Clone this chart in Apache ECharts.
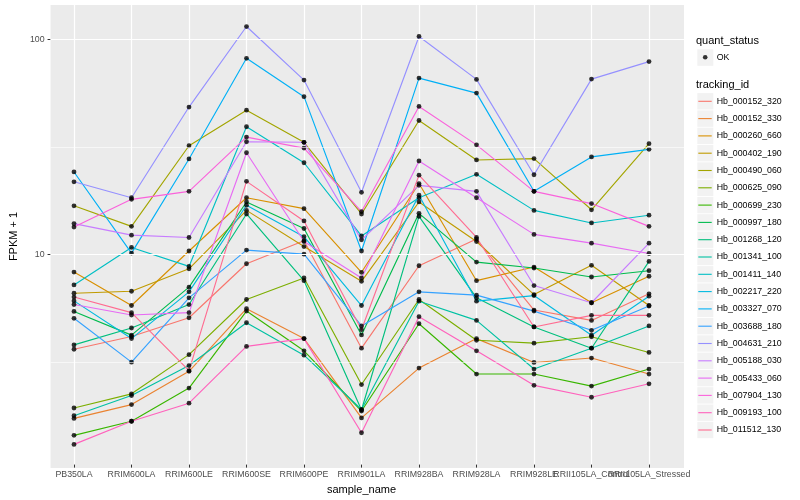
<!DOCTYPE html>
<html><head><meta charset="utf-8">
<script src="https://cdn.jsdelivr.net/npm/echarts@6/dist/echarts.min.js"></script>
<style>html,body{margin:0;padding:0;background:#fff}#c{width:800px;height:500px}</style>
</head><body><div id="c"></div>
<script>
const categories = ['PB350LA','RRIM600LA','RRIM600LE','RRIM600SE','RRIM600PE','RRIM901LA','RRIM928BA','RRIM928LA','RRIM928LE','RRII105LA_Control','RRII105LA_Stressed'];
const trackingIds = ['Hb_000152_320','Hb_000152_330','Hb_000260_660','Hb_000402_190','Hb_000490_060','Hb_000625_090','Hb_000699_230','Hb_000997_180','Hb_001268_120','Hb_001341_100','Hb_001411_140','Hb_002217_220','Hb_003327_070','Hb_003688_180','Hb_004631_210','Hb_005188_030','Hb_005433_060','Hb_007904_130','Hb_009193_100','Hb_011512_130'];
const colors = ['#F8766D','#EA8331','#D89000','#C09B00','#A3A500','#7CAE00','#39B600','#00BB4E','#00BF7D','#00C1A3','#00BFC4','#00BAE0','#00B0F6','#35A2FF','#9590FF','#C77CFF','#E76BF3','#FA62DB','#FF62BC','#FF6C91'];
const yTickValues = [10, 100];
const yTickLabels = ['10', '100'];
const yMinorBreaks = [3.1623, 31.623];

const Hb_000152_320 = [3.54, 4.06, 4.97, 8.89, 11.4, 3.58, 8.70, 11.6, 5.40, 4.83, 6.43];
const Hb_000152_330 = [1.68, 1.95, 2.79, 5.48, 3.97, 1.69, 2.89, 3.97, 3.07, 3.22, 2.71];
const Hb_000260_660 = [8.13, 5.67, 10.2, 18.1, 16.1, 8.11, 21.1, 7.41, 8.58, 5.84, 7.77];
const Hb_000402_190 = [6.47, 6.61, 8.42, 15.8, 10.7, 7.36, 17.3, 11.3, 6.38, 8.74, 5.67];
const Hb_000490_060 = [16.6, 13.3, 31.7, 46.5, 32.9, 15.2, 41.6, 27.2, 27.6, 15.9, 32.4];
const Hb_000625_090 = [1.88, 2.19, 3.34, 6.05, 7.63, 2.42, 6.05, 3.90, 3.78, 4.05, 3.42];
const Hb_000699_230 = [1.40, 1.63, 2.33, 5.34, 3.48, 1.82, 4.66, 2.71, 2.71, 2.38, 2.86];
const Hb_000997_180 = [5.32, 4.12, 6.91, 17.3, 13.0, 4.13, 15.3, 9.05, 8.49, 7.71, 8.25];
const Hb_001268_120 = [3.71, 4.45, 5.73, 15.2, 7.41, 1.84, 14.8, 6.16, 4.50, 3.58, 9.12];
const Hb_001341_100 = [1.73, 2.15, 2.97, 4.71, 3.32, 1.85, 5.94, 4.83, 2.86, 3.58, 4.55];
const Hb_001411_140 = [7.08, 10.6, 8.64, 38.9, 26.4, 12.0, 18.1, 23.3, 15.8, 13.8, 15.0];
const Hb_002217_220 = [5.96, 3.97, 6.57, 16.7, 11.9, 5.67, 18.6, 5.94, 6.31, 4.12, 6.27];
const Hb_003327_070 = [23.9, 9.97, 27.5, 81.3, 53.8, 10.2, 65.7, 55.9, 19.4, 28.1, 30.5];
const Hb_003688_180 = [4.94, 3.08, 6.16, 10.3, 9.86, 4.55, 6.57, 6.34, 5.34, 4.34, 5.64];
const Hb_004631_210 = [21.5, 18.1, 48.1, 114.5, 64.3, 19.2, 102.9, 64.8, 23.2, 65.0, 78.5];
const Hb_005188_030 = [13.7, 12.1, 11.8, 33.1, 32.9, 11.5, 20.7, 19.4, 7.03, 5.84, 11.1];
const Hb_005433_060 = [5.73, 5.12, 5.25, 29.4, 11.3, 7.63, 26.9, 18.1, 12.2, 11.1, 9.93];
const Hb_007904_130 = [13.2, 17.8, 19.4, 34.8, 30.9, 15.6, 48.4, 32.0, 19.4, 17.0, 13.3];
const Hb_009193_100 = [1.27, 1.63, 1.98, 3.65, 3.97, 1.44, 5.03, 3.48, 2.40, 2.11, 2.44];
const Hb_011512_130 = [6.21, 5.25, 2.81, 21.6, 14.1, 4.37, 23.1, 11.8, 4.50, 5.10, 5.10];

const seriesValues = [Hb_000152_320, Hb_000152_330, Hb_000260_660, Hb_000402_190, Hb_000490_060, Hb_000625_090, Hb_000699_230, Hb_000997_180, Hb_001268_120, Hb_001341_100, Hb_001411_140, Hb_002217_220, Hb_003327_070, Hb_003688_180, Hb_004631_210, Hb_005188_030, Hb_005433_060, Hb_007904_130, Hb_009193_100, Hb_011512_130];

const FONT = '"Liberation Sans", Arial, Helvetica, sans-serif';
const yMin = 1.0216, yMax = 144.4;

const chart = echarts.init(document.getElementById('c'), null, {renderer: 'canvas'});

const lineSeries = trackingIds.map((id, i) => ({
  name: id, type: 'line', xAxisIndex: 1, yAxisIndex: 1,
  data: seriesValues[i], symbol: 'none', color: colors[i],
  lineStyle: {width: 1.15, color: colors[i]}, z: 2, silent: true
}));
const points = [];
seriesValues.forEach(vals => vals.forEach((v, j) => points.push([categories[j], v])));

// legend key backgrounds (decoration)
const keyBoxes = [];
keyBoxes.push({type: 'rect', shape: {x: 697.3, y: 49.3, width: 16, height: 16.5}, style: {fill: '#F2F2F2'}, silent: true});
for (let i = 0; i < trackingIds.length; i++) {
  keyBoxes.push({type: 'rect', shape: {x: 697.3, y: 93.1 + 17.3 * i, width: 16, height: 16.4}, style: {fill: '#F2F2F2'}, silent: true});
}

const option = {
  animation: false,
  backgroundColor: '#fff',
  textStyle: {fontFamily: FONT},
  title: [
    {text: 'quant_status', left: 696, top: 35, padding: 0, textStyle: {fontSize: 11, fontWeight: 'normal', color: '#000', fontFamily: FONT}},
    {text: 'tracking_id', left: 696, top: 79, padding: 0, textStyle: {fontSize: 11, fontWeight: 'normal', color: '#000', fontFamily: FONT}}
  ],
  graphic: keyBoxes,
  legend: [
    {data: ['OK'], orient: 'vertical', left: 695.7, top: 48.65, padding: 0, itemGap: 0, itemWidth: 16, itemHeight: 17.3,
     icon: 'path://M0,0L0,0M16,17.3L16,17.3M7.2,8.65A2.3,2.3 0 1,0 11.8,8.65A2.3,2.3 0 1,0 7.2,8.65Z',
     itemStyle: {borderWidth: 0}, selectedMode: false,
     textStyle: {fontSize: 8.8, color: '#000', fontFamily: FONT}},
    {data: trackingIds, orient: 'vertical', left: 695.7, top: 92.65, padding: 0, itemGap: 0, itemWidth: 16, itemHeight: 17.3,
     icon: 'path://M0,0L0,0M16,17.3L16,17.3M2.6,8.1L16,8.1L16,9.2L2.6,9.2Z',
     itemStyle: {borderWidth: 0}, selectedMode: false,
     textStyle: {fontSize: 8.8, color: '#000', fontFamily: FONT}}
  ],
  grid: [
    {left: 40, top: 5, width: 644, height: 463, show: true, backgroundColor: '#EBEBEB', borderWidth: 0, containLabel: false},
    {left: 74, top: 5, width: 575, height: 463, show: false, containLabel: false}
  ],
  xAxis: [
    {type: 'value', gridIndex: 0, min: 0, max: 1, show: false},
    {type: 'category', gridIndex: 1, data: categories, boundaryGap: false,
     axisLine: {show: false},
     axisTick: {show: true, length: 3, lineStyle: {color: '#333', width: 1}},
     axisLabel: {interval: 0, margin: 5.5, fontSize: 8.8, color: '#4D4D4D', fontFamily: FONT},
     splitLine: {show: true, lineStyle: {color: '#fff', width: 1.2}},
     name: 'sample_name', nameLocation: 'middle', nameGap: 14,
     nameTextStyle: {fontSize: 11, color: '#000', fontFamily: FONT}}
  ],
  yAxis: [
    {type: 'log', logBase: 10, gridIndex: 0, min: yMin, max: yMax,
     axisLine: {show: false},
     axisTick: {show: true, length: 3, lineStyle: {color: '#333', width: 1},
       customValues: yTickValues},
     axisLabel: {margin: 6, fontSize: 8.8, color: '#4D4D4D', fontFamily: FONT,
       customValues: yTickValues,
       formatter: v => { const k = yTickValues.findIndex(t => Math.abs(t - v) < 1e-6); return k >= 0 ? yTickLabels[k] : ''; }},
     splitLine: {show: false},
     name: 'FPKM + 1', nameLocation: 'middle', nameGap: 22.5, nameRotate: 90,
     nameTextStyle: {fontSize: 11, color: '#000', fontFamily: FONT}},
    {type: 'log', logBase: 10, gridIndex: 1, min: yMin, max: yMax, show: false}
  ],
  series: [
    {type: 'line', name: 'gridlines', xAxisIndex: 0, yAxisIndex: 0, data: [], silent: true, z: 1,
     markLine: {silent: true, symbol: 'none', label: {show: false}, animation: false,
       data: yTickValues.map(v => ({yAxis: v, lineStyle: {color: '#fff', width: 1.2, type: 'solid'}}))
         .concat(yMinorBreaks.map(v => ({yAxis: v, lineStyle: {color: '#fff', width: 0.6, type: 'solid'}})))}},
    ...lineSeries,
    {type: 'scatter', name: 'OK', xAxisIndex: 1, yAxisIndex: 1, data: points, symbol: 'circle', symbolSize: 4.8,
     itemStyle: {color: '#000'}, z: 3, silent: true}
  ]
};
chart.setOption(option);
</script></body></html>
